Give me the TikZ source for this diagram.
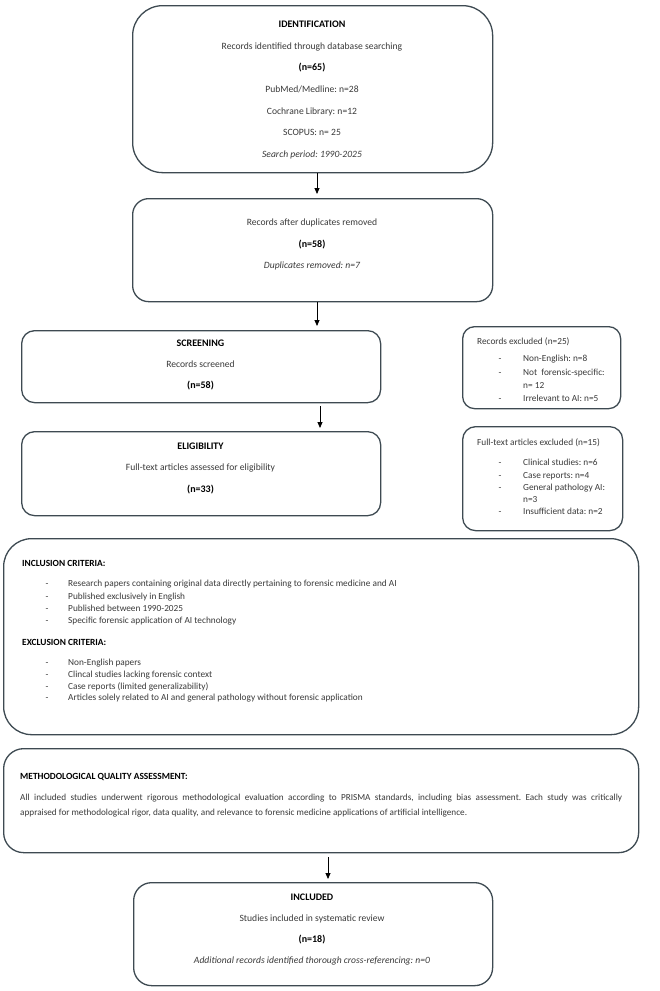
\documentclass[tikz,border=0pt]{standalone}
\usepackage{fontspec}
\setmainfont{Carlito}
\usetikzlibrary{arrows.meta}
\definecolor{edge}{HTML}{3E4A52}
\definecolor{txt}{HTML}{3A3A3A}
\frenchspacing
\begin{document}
\begin{tikzpicture}[x=1pt,y=-1pt,
  box/.style={draw=edge, line width=1.3pt, inner sep=0pt, anchor=north west, fill=white},
  t/.style={font=\fontsize{9.6}{11}\selectfont, text=txt, inner sep=0pt, anchor=mid},
  hd/.style={font=\fontsize{10}{12}\selectfont\bfseries, text=black, inner sep=0pt, anchor=mid},
  hdl/.style={font=\fontsize{9.4}{11}\selectfont\bfseries, text=black, inner sep=0pt, anchor=mid west},
  li/.style={font=\fontsize{9.3}{11}\selectfont, text=txt, inner sep=0pt, anchor=mid west},
  bul/.style={font=\fontsize{9.3}{11}\selectfont, text=txt, inner sep=0pt, anchor=mid},
  arr/.style={-{Triangle[length=6pt,width=5pt]}, line width=0.8pt, black}]

\useasboundingbox (0,0) rectangle (660,991);
\fill[white] (0,0) rectangle (660,991);

% ---------- boxes ----------
\node[box, rounded corners=30pt, minimum width=360pt, minimum height=167pt] (b1) at (132,5) {};
\node[box, rounded corners=16pt, minimum width=360pt, minimum height=103pt] (b2) at (132,198) {};
\node[box, rounded corners=13pt, minimum width=359pt, minimum height=72pt] (b3) at (21,330) {};
\node[box, rounded corners=12pt, minimum width=158pt, minimum height=82pt] (b4) at (462,326) {};
\node[box, rounded corners=13pt, minimum width=359pt, minimum height=84pt] (b5) at (21,431) {};
\node[box, rounded corners=13pt, minimum width=160pt, minimum height=104pt] (b6) at (462,426) {};
\node[box, rounded corners=28pt, minimum width=635pt, minimum height=196pt] (b7) at (3,538) {};
\node[box, rounded corners=20pt, minimum width=635pt, minimum height=104pt] (b8) at (3,748) {};
\node[box, rounded corners=18pt, minimum width=359pt, minimum height=103pt] (b9) at (133,882) {};

% ---------- box 1 ----------
\node[hd] (t1a) at (312,25) {IDENTIFICATION};
\node[t]  (t1b) at (312,47) {Records identified through database searching};
\node[hd] (t1c) at (312,68) {(n=65)};
\node[t]  (t1d) at (312,90) {PubMed/Medline: n=28};
\node[t]  (t1e) at (312,112) {Cochrane Library: n=12};
\node[t]  (t1f) at (312,133) {SCOPUS: n= 25};
\node[t]  (t1g) at (312,155) {\itshape Search period: 1990-2025};

% ---------- box 2 ----------
\node[t]  (t2a) at (312,223) {Records after duplicates removed};
\node[hd] (t2b) at (312,245) {(n=58)};
\node[t]  (t2c) at (312,266) {\itshape Duplicates removed: n=7};

% ---------- box 3 ----------
\node[hd] (t3a) at (200.5,344) {SCREENING};
\node[t]  (t3b) at (200.5,365) {Records screened};
\node[hd] (t3c) at (200.5,386) {(n=58)};

% ---------- box 4 ----------
\node[li] (t4a) at (477,342) {Records excluded (n=25)};
\node[bul] (d4a) at (500,359) {-}; \node[li] (t4b) at (523,359) {Non-English: n=8};
\node[bul] (d4b) at (500,373) {-}; \node[li] (t4c) at (523,373) {Not\ \ forensic-specific:};
\node[li] (t4d) at (523,386) {n= 12};
\node[bul] (d4c) at (500,399) {-}; \node[li] (t4e) at (523,399) {Irrelevant to AI: n=5};

% ---------- box 5 ----------
\node[hd] (t5a) at (200.5,447) {ELIGIBILITY};
\node[t]  (t5b) at (200.5,468) {Full-text articles assessed for eligibility};
\node[hd] (t5c) at (200.5,490) {(n=33)};

% ---------- box 6 ----------
\node[li] (t6a) at (477,443) {Full-text articles excluded (n=15)};
\node[bul] (d6a) at (500,463) {-}; \node[li] (t6b) at (523,463) {Clinical studies: n=6};
\node[bul] (d6b) at (500,476) {-}; \node[li] (t6c) at (523,476) {Case reports: n=4};
\node[bul] (d6c) at (500,488) {-}; \node[li] (t6d) at (523,488) {General pathology AI:};
\node[li] (t6e) at (523,500) {n=3};
\node[bul] (d6d) at (500,512) {-}; \node[li] (t6f) at (523,512) {Insufficient data: n=2};

% ---------- box 7 ----------
\node[hdl] (t7a) at (22,564) {INCLUSION CRITERIA:};
\node[bul] (d7a) at (47,584) {-}; \node[li] (t7b) at (68,584) {Research papers containing original data directly pertaining to forensic medicine and AI};
\node[bul] (d7b) at (47,597) {-}; \node[li] (t7c) at (68,597) {Published exclusively in English};
\node[bul] (d7c) at (47,609) {-}; \node[li] (t7d) at (68,609) {Published between 1990-2025};
\node[bul] (d7d) at (47,621) {-}; \node[li] (t7e) at (68,621) {Specific forensic application of AI technology};
\node[hdl] (t7f) at (22,643) {EXCLUSION CRITERIA:};
\node[bul] (d7e) at (47,663) {-}; \node[li] (t7g) at (68,663) {Non-English papers};
\node[bul] (d7f) at (47,675) {-}; \node[li] (t7h) at (68,675) {Clincal studies lacking forensic context};
\node[bul] (d7g) at (47,687) {-}; \node[li] (t7i) at (68,687) {Case reports (limited generalizability)};
\node[bul] (d7h) at (47,698) {-}; \node[li] (t7j) at (68,698) {Articles solely related to AI and general pathology without forensic application};

% ---------- box 8 ----------
\node[hdl] (t8a) at (20,777) {METHODOLOGICAL QUALITY ASSESSMENT:};
\node[li, font=\fontsize{9.2}{11}\selectfont] (t8b) at (20,798) {\makebox[602pt][s]{All included studies underwent rigorous methodological evaluation according to PRISMA standards, including bias assessment. Each study was critically}};
\node[li, font=\fontsize{9.2}{11}\selectfont] (t8c) at (20,813) {appraised for methodological rigor, data quality, and relevance to forensic medicine applications of artificial intelligence.};

% ---------- box 9 ----------
\node[hd] (t9a) at (312,898) {INCLUDED};
\node[t]  (t9b) at (312,919) {Studies included in systematic review};
\node[hd] (t9c) at (312,940) {(n=18)};
\node[t]  (t9d) at (312,961) {\itshape Additional records identified thorough cross-referencing: n=0};

% ---------- arrows ----------
\coordinate (ax1) at (317,0);
\coordinate (ax2) at (320,0);
\coordinate (ax3) at (328,0);
\draw[arr, shorten >=4pt] (ax1 |- b1.south) -- (ax1 |- b2.north);
\draw[arr, shorten >=4pt] (ax1 |- b2.south) -- (ax1 |- b3.north);
\draw[arr, shorten <=3pt, shorten >=3pt] (ax2 |- b3.south) -- (ax2 |- b5.north);
\draw[arr, shorten <=4pt, shorten >=3pt] (ax3 |- b8.south) -- (ax3 |- b9.north);
\end{tikzpicture}
\end{document}
